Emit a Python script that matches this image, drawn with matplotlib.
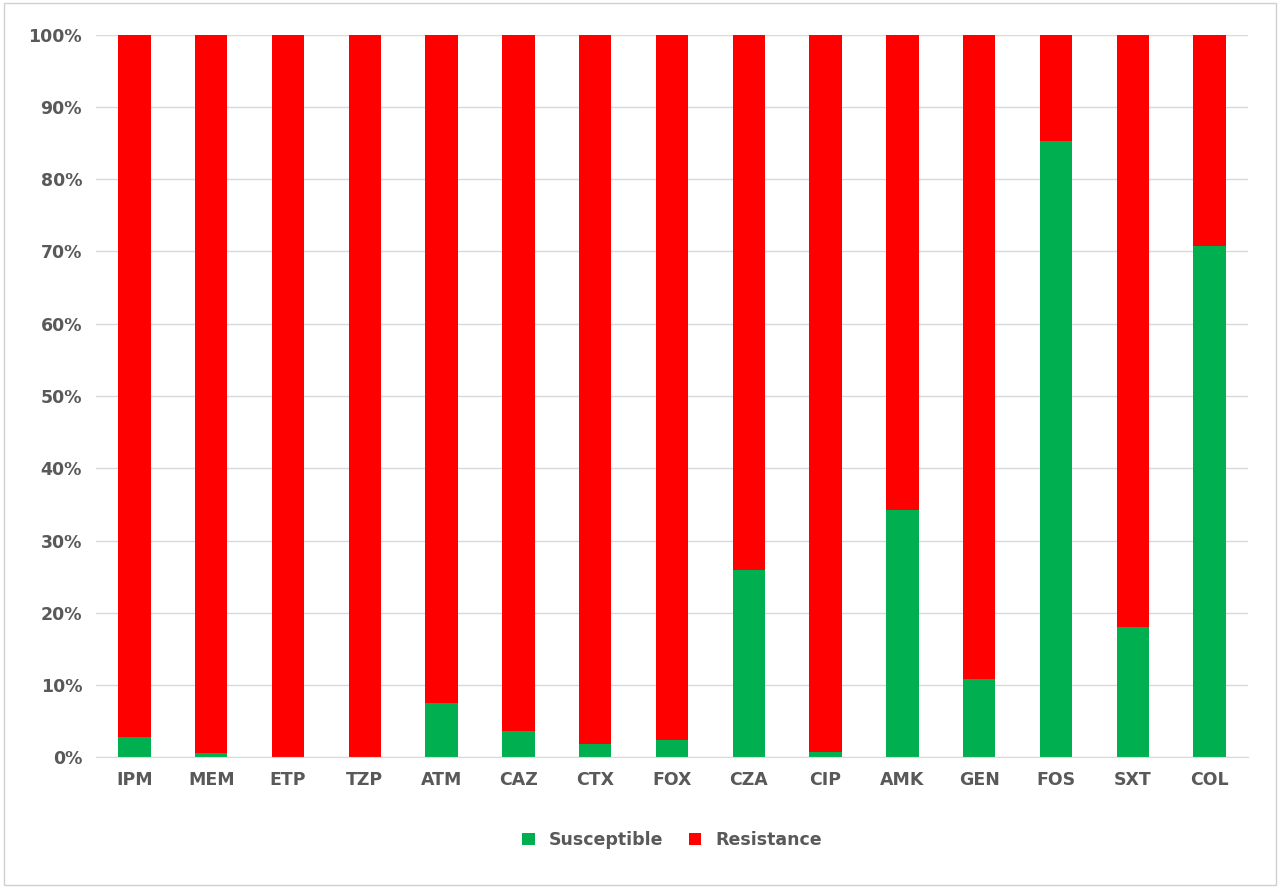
import numpy as np
import matplotlib.pyplot as plt
from matplotlib.ticker import PercentFormatter

drugs = ["IPM", "MEM", "ETP", "TZP", "ATM", "CAZ", "CTX", "FOX",
         "CZA", "CIP", "AMK", "GEN", "FOS", "SXT", "COL"]
susceptible = [2.8, 0.6, 0.0, 0.0, 7.6, 3.7, 1.9, 2.4,
               25.9, 0.8, 34.3, 10.8, 85.3, 18.0, 70.8]
resistance = [100 - s for s in susceptible]

plt.rcParams["font.weight"] = "bold"

fig = plt.figure(figsize=(12.8, 8.88), dpi=100)
ax = fig.add_axes([0.075, 0.147, 0.9, 0.814])
fig.patches.append(plt.Rectangle((0.003, 0.003), 0.994, 0.994, transform=fig.transFigure,
                                 fill=False, edgecolor="#d0d0d0", linewidth=1))

x = np.arange(len(drugs))
ax.bar(x, susceptible, width=0.42, color="#00b050", label="Susceptible", zorder=2)
ax.bar(x, resistance, width=0.42, bottom=susceptible, color="#ff0000", label="Resistance", zorder=2)

ax.set_xlim(-0.5, len(drugs) - 0.5)
ax.set_ylim(0, 100)
ax.set_yticks(np.arange(0, 101, 10))
ax.yaxis.set_major_formatter(PercentFormatter(decimals=0))
ax.set_xticks(x)
ax.set_xticklabels(drugs)
ax.grid(axis="y", color="#d9d9d9", linewidth=1, zorder=0)
for s in ["top", "right", "left"]:
    ax.spines[s].set_visible(False)
ax.spines["bottom"].set_color("#d9d9d9")
ax.tick_params(length=0, labelsize=12.5, colors="#595959", pad=10)

ax.legend(loc="upper center", bbox_to_anchor=(0.5, -0.08), ncol=2, frameon=False,
          fontsize=12.5, handlelength=0.7, handleheight=0.7, columnspacing=1.5,
          labelcolor="#595959")

fig.savefig("out.png")
